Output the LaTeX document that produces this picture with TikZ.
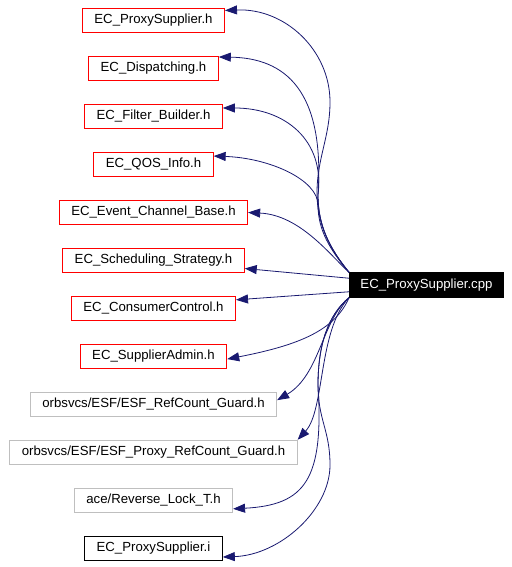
\documentclass[tikz,border=0pt]{standalone}
\usepackage{fontspec}
\setmainfont{Liberation Sans}
\usetikzlibrary{arrows.meta}
\definecolor{depblue}{RGB}{25,25,112}
\definecolor{incred}{RGB}{255,0,0}
\definecolor{incgray}{RGB}{191,191,191}

\begin{document}
\begin{tikzpicture}[x=1pt,y=-1pt,font=\fontsize{13.2}{15}\selectfont,
    hdr/.style={draw,line width=0.9pt,inner xsep=12pt,inner ysep=0pt,minimum height=24.5pt},
    dep/.style={-{Triangle[length=12pt,width=9pt]},depblue,line width=0.8pt}]
  \useasboundingbox (0,0) rectangle (511,567);
  \foreach \lbl/\col [count=\i] in {EC\_ProxySupplier.h/incred,EC\_Dispatching.h/incred,
      EC\_Filter\_Builder.h/incred,EC\_QOS\_Info.h/incred,EC\_Event\_Channel\_Base.h/incred,
      EC\_Scheduling\_Strategy.h/incred,EC\_ConsumerControl.h/incred,EC\_SupplierAdmin.h/incred,
      {orbsvcs/ESF/ESF\_RefCount\_Guard.h}/incgray,{orbsvcs/ESF/ESF\_Proxy\_RefCount\_Guard.h}/incgray,
      {ace/Reverse\_Lock\_T.h}/incgray,EC\_ProxySupplier.i/black}{
    \node[hdr,draw=\col] (h\i) at (153.5,20.5+48*\i-48) {\lbl};
  }
  \node[hdr,fill=black,text=white,inner xsep=11pt] (cpp) at (426.5,285) {EC\_ProxySupplier.cpp};
  \draw[dep] (cpp.north west) .. controls (329,248) and (317,223) .. (317,193)
    .. controls (317,158) and (330,137) .. (330,102)
    .. controls (330,50) and (285,8) .. (h1.8);
  \draw[dep] (cpp.north west) .. controls (329,248) and (318,225) .. (318,195)
    .. controls (325,90) and (285,58) .. (h2.10);
  \draw[dep] (cpp.north west) .. controls (329,248) and (318,225) .. (318,195)
    .. controls (325,140) and (285,108) .. (h3.7);
  \draw[dep] (cpp.north west) .. controls (330,250) and (318,230) .. (318,205)
    .. controls (318,180) and (270,158) .. (h4.8);
  \draw[dep] (cpp.north west) .. controls (330,255) and (300,215) .. (h5.east);
  \draw[dep] (cpp.175) -- (h6.-5);
  \draw[dep] (cpp.185) -- (h7.6);
  \draw[dep] (cpp.south west) .. controls (335,330) and (300,345) .. (h8.-2);
  \draw[dep] (cpp.south west) .. controls (322,320) and (320,375) .. (h9.2);
  \draw[dep] (cpp.south west) .. controls (318,330) and (325,410) .. (h10.north east);
  \draw[dep] (cpp.south west) .. controls (328,315) and (318,345) .. (318,385)
    .. controls (324,480) and (305,505) .. (h11.-6);
  \draw[dep] (cpp.south west) .. controls (328,315) and (318,345) .. (318,385)
    .. controls (318,420) and (330,430) .. (330,465)
    .. controls (330,510) and (280,555) .. (h12.-7);
\end{tikzpicture}
\end{document}
